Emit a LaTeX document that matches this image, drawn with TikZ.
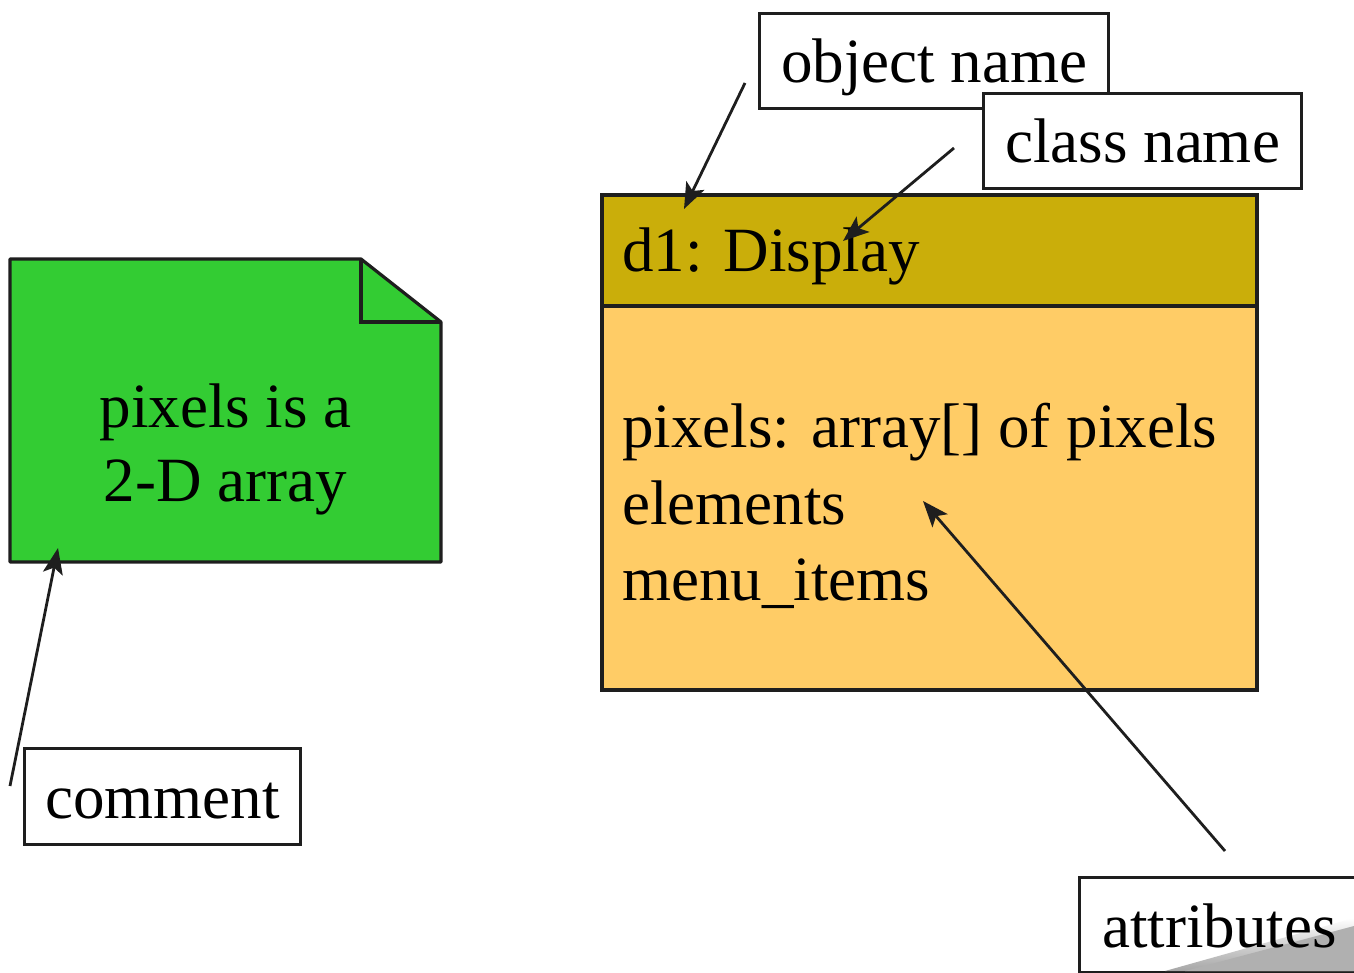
\documentclass[tikz,border=0pt]{standalone}
\usepackage{fontspec}
\setmainfont{Liberation Serif}
\usetikzlibrary{arrows.meta}
\definecolor{notegreen}{RGB}{51,204,51}
\definecolor{headgold}{RGB}{202,174,10}
\definecolor{bodyorange}{RGB}{255,204,102}
\definecolor{inkgray}{RGB}{30,30,30}
\tikzset{
  big/.style={font=\fontsize{63}{74}\selectfont},
  txt/.style={big, anchor=base west, inner sep=0pt},
  labelbox/.style={draw=inkgray, line width=3.2pt, fill=white, inner sep=0pt, anchor=north west},
  outline/.style={draw=inkgray, line width=3.2pt},
  pointer/.style={draw=inkgray, line width=2.8pt, -{Stealth[length=26pt,width=20pt,inset=6pt]}},
}
\begin{document}
\begin{tikzpicture}[x=1pt,y=-1pt]
\useasboundingbox (0,0) rectangle (1354,973);

% comment note with folded corner
\path[fill=notegreen, outline, line join=round]
  (10,259) -- (361,259) -- (441,322) -- (441,562) -- (10,562) -- cycle;
\draw[outline] (361,259) -- (361,322) -- (441,322);
\node[big, anchor=base] (note1) at (225.5,427) {pixels is a};
\node[big, anchor=base] (note2) at (225.5,501) {2-D array};
\coordinate (noteedge) at (58,548);

% object box: header and attribute compartment
\path[fill=headgold, outline] (602,195) rectangle (1257,306);
\path[fill=bodyorange, outline] (602,306) rectangle (1257,690);
\node[txt] (title) at (622,272) {d1: Display};
\node[txt] (attr1) at (622,447) {pixels: array[] of pixels};
\node[txt] (attr2) at (622,524) {elements};
\node[txt] (attr3) at (622,600) {menu\_items};
\coordinate (objtip) at (684,209);
\coordinate (classtip) at (843,241);
\coordinate (attrtip) at (923,501);

% callout labels
\node[labelbox, minimum width=349pt, minimum height=95pt] (objname) at (758,12) {};
\node[big, anchor=base] at ([yshift=-71pt]objname.north) {object name};
\node[labelbox, minimum width=318pt, minimum height=95pt] (clsname) at (982,92) {};
\node[big, anchor=base] at ([yshift=-71pt]clsname.north) {class name};
\node[labelbox, minimum width=276pt, minimum height=96pt] (cmt) at (23,747) {};
\node[big, anchor=base] at ([yshift=-71pt]cmt.north) {comment};
\node[labelbox, minimum width=280pt, minimum height=95pt] (attrs) at (1078,876) {};
\shade[left color=white, right color=gray!70, shading angle=0]
  (1165,971) -- (1354,918) -- (1354,971) -- cycle;
\fill[gray!62] (1185,971) -- (1354,926) -- (1354,971) -- cycle;
\node[big, anchor=base] at ([yshift=-71pt]attrs.north) {attributes};

% callout leaders
\coordinate (objfrom) at (745,83);
\coordinate (clsfrom) at (954,148);
\coordinate (cmtfrom) at (10,786);
\coordinate (attrfrom) at (1225,851);
\draw[pointer] (objfrom) -- (objtip);
\draw[pointer] (clsfrom) -- (classtip);
\draw[pointer] (cmtfrom) -- (noteedge);
\draw[pointer] (attrfrom) -- (attrtip);
\end{tikzpicture}
\end{document}
